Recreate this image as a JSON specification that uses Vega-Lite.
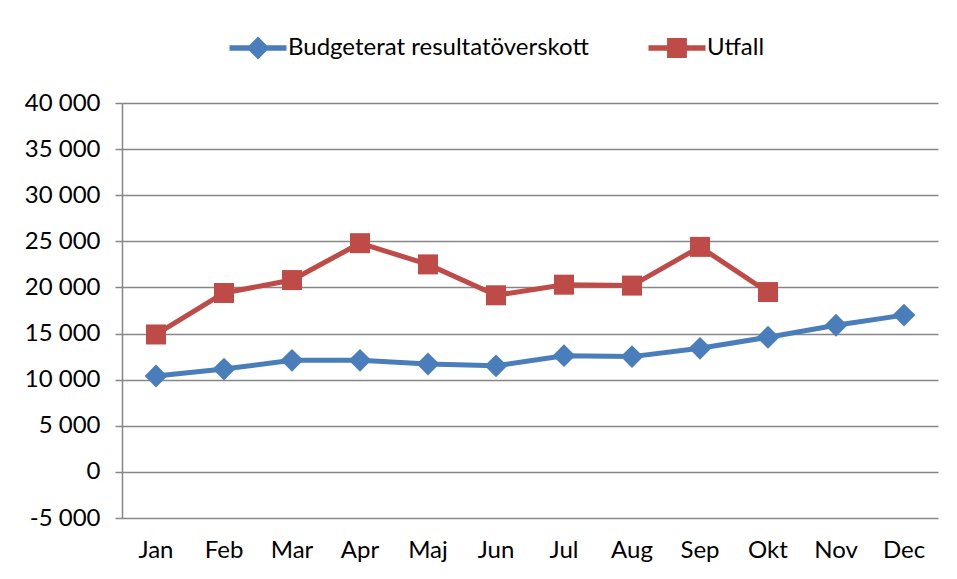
{
  "$schema": "https://vega.github.io/schema/vega-lite/v6.json",
  "autosize": "none",
  "width": 816,
  "height": 415,
  "padding": {"left": 122, "top": 103, "right": 19, "bottom": 61},
  "background": "white",
  "config": {
    "font": "Lato",
    "view": {"stroke": null}
  },
  "data": {
    "values": [
      {"month": "Jan", "serie": "Budgeterat resultatöverskott", "value": 10400},
      {"month": "Feb", "serie": "Budgeterat resultatöverskott", "value": 11150},
      {"month": "Mar", "serie": "Budgeterat resultatöverskott", "value": 12100},
      {"month": "Apr", "serie": "Budgeterat resultatöverskott", "value": 12100},
      {"month": "Maj", "serie": "Budgeterat resultatöverskott", "value": 11700},
      {"month": "Jun", "serie": "Budgeterat resultatöverskott", "value": 11500},
      {"month": "Jul", "serie": "Budgeterat resultatöverskott", "value": 12600},
      {"month": "Aug", "serie": "Budgeterat resultatöverskott", "value": 12500},
      {"month": "Sep", "serie": "Budgeterat resultatöverskott", "value": 13400},
      {"month": "Okt", "serie": "Budgeterat resultatöverskott", "value": 14600},
      {"month": "Nov", "serie": "Budgeterat resultatöverskott", "value": 15900},
      {"month": "Dec", "serie": "Budgeterat resultatöverskott", "value": 17000},
      {"month": "Jan", "serie": "Utfall", "value": 14900},
      {"month": "Feb", "serie": "Utfall", "value": 19400},
      {"month": "Mar", "serie": "Utfall", "value": 20800},
      {"month": "Apr", "serie": "Utfall", "value": 24800},
      {"month": "Maj", "serie": "Utfall", "value": 22500},
      {"month": "Jun", "serie": "Utfall", "value": 19150},
      {"month": "Jul", "serie": "Utfall", "value": 20300},
      {"month": "Aug", "serie": "Utfall", "value": 20200},
      {"month": "Sep", "serie": "Utfall", "value": 24400},
      {"month": "Okt", "serie": "Utfall", "value": 19500}
    ]
  },
  "encoding": {
    "x": {
      "field": "month",
      "type": "ordinal",
      "sort": ["Jan","Feb","Mar","Apr","Maj","Jun","Jul","Aug","Sep","Okt","Nov","Dec"],
      "scale": {"type": "band", "paddingInner": 0, "paddingOuter": 0},
      "axis": {
        "title": null,
        "labelAngle": 0,
        "labelFontSize": 24,
        "labelColor": "#000000",
        "labelPadding": 20,
        "ticks": false,
        "domain": false
      }
    },
    "y": {
      "field": "value",
      "type": "quantitative",
      "scale": {"domain": [-5000, 40000], "nice": false, "zero": false},
      "axis": {
        "title": null,
        "values": [-5000, 0, 5000, 10000, 15000, 20000, 25000, 30000, 35000, 40000],
        "labelExpr": "(datum.value < 0 ? '-' : '') + replace(format(abs(datum.value), ','), ',', ' ')",
        "labelFontSize": 24,
        "labelColor": "#000000",
        "labelPadding": 15,
        "tickSize": 7,
        "tickColor": "#868686",
        "tickWidth": 1.5,
        "domainColor": "#868686",
        "domainWidth": 1.5,
        "grid": true,
        "gridColor": "#868686",
        "gridWidth": 1.5,
        "gridOpacity": 1
      }
    }
  },
  "layer": [
    {
      "mark": {"type": "line", "strokeWidth": 5},
      "encoding": {
        "color": {
          "field": "serie",
          "type": "nominal",
          "scale": {"domain": ["Budgeterat resultatöverskott", "Utfall"], "range": ["#4A7EBB", "#BE4B48"]},
          "legend": {
            "title": null,
            "orient": "none",
            "legendX": 106,
            "legendY": -85,
            "direction": "horizontal",
            "labelFontSize": 24,
            "labelColor": "#000000",
            "labelLimit": 0,
            "labelOffset": 0,
            "columnPadding": 58,
            "symbolSize": 3600,
            "symbolOpacity": 1,
            "encode": {
              "symbols": {
                "update": {
                  "shape": {"signal": "datum.value === 'Utfall' ? 'M-0.95,-0.09H0.95V0.09H-0.95Z M-0.33,-0.33H0.33V0.33H-0.33Z' : 'M-0.95,-0.09H0.95V0.09H-0.95Z M0,-0.38L0.38,0L0,0.38L-0.38,0Z'"},
                  "fill": {"signal": "datum.value === 'Utfall' ? '#BE4B48' : '#4A7EBB'"},
                  "fillOpacity": {"value": 1},
                  "strokeWidth": {"value": 0}
                }
              }
            }
          }
        }
      }
    },
    {
      "mark": {"type": "point", "filled": true, "opacity": 1},
      "encoding": {
        "color": {
          "field": "serie",
          "type": "nominal",
          "scale": {"domain": ["Budgeterat resultatöverskott", "Utfall"], "range": ["#4A7EBB", "#BE4B48"]},
          "legend": null
        },
        "shape": {
          "field": "serie",
          "type": "nominal",
          "scale": {"domain": ["Budgeterat resultatöverskott", "Utfall"], "range": ["diamond", "square"]},
          "legend": null
        },
        "size": {
          "field": "serie",
          "type": "nominal",
          "scale": {"domain": ["Budgeterat resultatöverskott", "Utfall"], "range": [520, 400]},
          "legend": null
        }
      }
    }
  ],
  "resolve": {"legend": {"color": "independent"}}
}
